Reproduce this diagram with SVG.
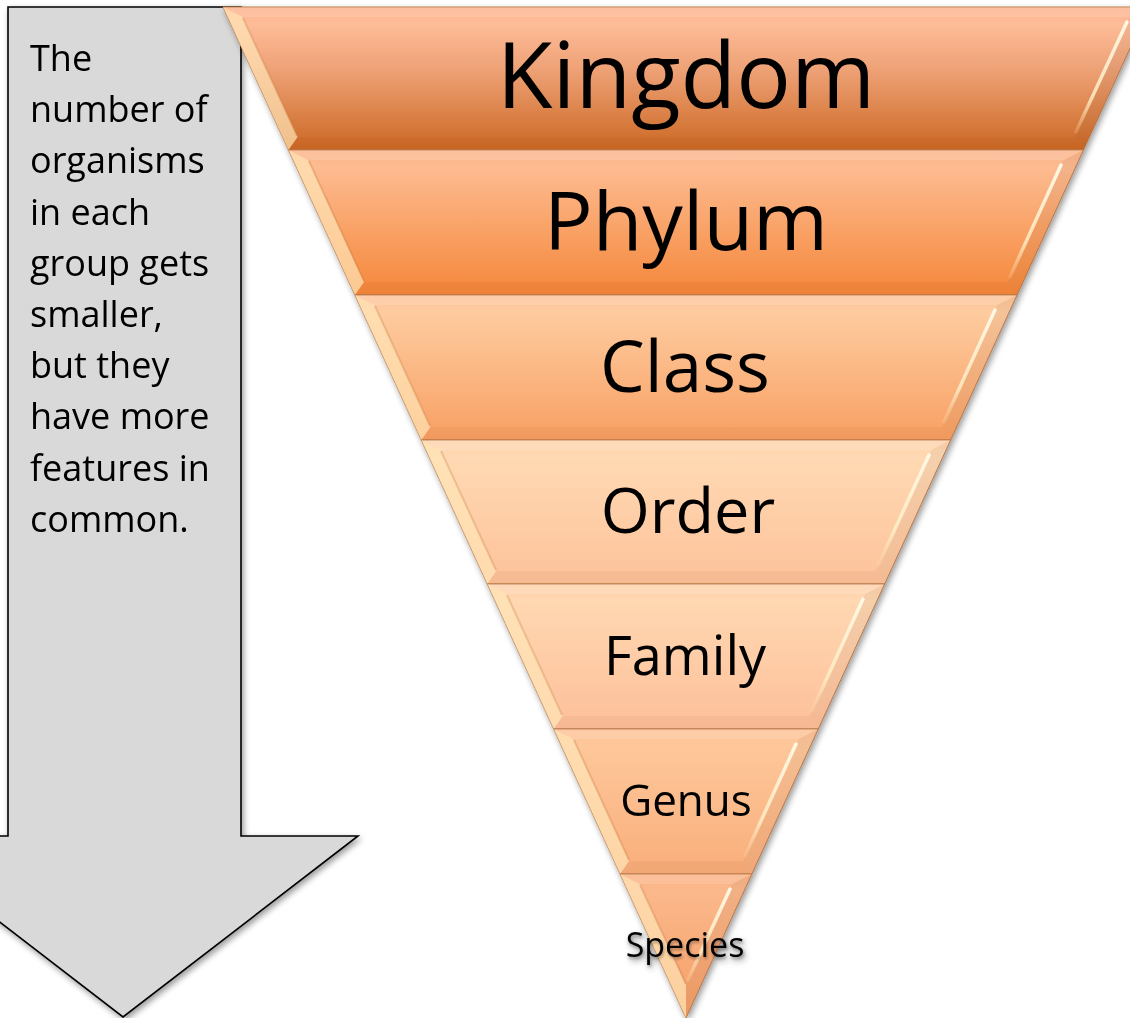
<svg xmlns="http://www.w3.org/2000/svg" width="1130" height="1018" viewBox="0 0 1130 1018">
<style>
.lbl{font-family:"Open Sans","Liberation Sans",sans-serif;fill:#000;text-anchor:middle}
.side{font-family:"Open Sans","Liberation Sans",sans-serif;font-size:36px;fill:#000}
.outer{stroke:#B97848;stroke-width:1}
.bl{fill:#FFE6B8;opacity:0.7}
.br{fill:#000;opacity:0.04}
.bt{fill:#fff;opacity:0.15}
.bb{fill:#7a3000;opacity:0.05}
.hl{stroke:url(#hlg);stroke-width:3.5;stroke-linecap:round;fill:none}
.sh{stroke:#C8773F;stroke-width:2;opacity:0.3;fill:none}
</style>
<defs>
<filter id="ds" x="-10%" y="-10%" width="130%" height="130%">
<feGaussianBlur in="SourceAlpha" stdDeviation="3"/>
<feOffset dx="2" dy="3" result="b"/>
<feComponentTransfer><feFuncA type="linear" slope="0.4"/></feComponentTransfer>
<feMerge><feMergeNode/><feMergeNode in="SourceGraphic"/></feMerge>
</filter>
<filter id="ts" x="-10%" y="-20%" width="130%" height="150%">
<feGaussianBlur in="SourceAlpha" stdDeviation="1.5"/>
<feOffset dx="1" dy="2"/>
<feComponentTransfer><feFuncA type="linear" slope="0.35"/></feComponentTransfer>
<feMerge><feMergeNode/><feMergeNode in="SourceGraphic"/></feMerge>
</filter>
<linearGradient id="hlg" x1="0" y1="0" x2="0" y2="1">
<stop offset="0" stop-color="#FFFBE8" stop-opacity="0.95"/>
<stop offset="0.7" stop-color="#FFF0C8" stop-opacity="0.8"/>
<stop offset="1" stop-color="#FFE0B0" stop-opacity="0.2"/>
</linearGradient>
<linearGradient id="g1" x1="0" y1="0" x2="0" y2="1">
<stop offset="0" stop-color="#FDB38E"/><stop offset="0.12" stop-color="#FEBC98"/><stop offset="0.45" stop-color="#EDA074"/><stop offset="1" stop-color="#CC6824"/>
</linearGradient>
<linearGradient id="g2" x1="0" y1="0" x2="0" y2="1">
<stop offset="0" stop-color="#FCB58C"/><stop offset="0.12" stop-color="#FDBB90"/><stop offset="1" stop-color="#F5873A"/>
</linearGradient>
<linearGradient id="g3" x1="0" y1="0" x2="0" y2="1">
<stop offset="0" stop-color="#FDC39A"/><stop offset="0.12" stop-color="#FECB9F"/><stop offset="1" stop-color="#F8A063"/>
</linearGradient>
<linearGradient id="g4" x1="0" y1="0" x2="0" y2="1">
<stop offset="0" stop-color="#FED3AE"/><stop offset="0.12" stop-color="#FFD9B3"/><stop offset="1" stop-color="#FDC29A"/>
</linearGradient>
<linearGradient id="g5" x1="0" y1="0" x2="0" y2="1">
<stop offset="0" stop-color="#FED2AC"/><stop offset="0.12" stop-color="#FFD7B1"/><stop offset="1" stop-color="#FDC09A"/>
</linearGradient>
<linearGradient id="g6" x1="0" y1="0" x2="0" y2="1">
<stop offset="0" stop-color="#FDC196"/><stop offset="0.12" stop-color="#FEC79A"/><stop offset="1" stop-color="#F9AE7B"/>
</linearGradient>
<linearGradient id="g7" x1="0" y1="0" x2="0" y2="1">
<stop offset="0" stop-color="#FBB487"/><stop offset="0.12" stop-color="#FBB88B"/><stop offset="1" stop-color="#F59E66"/>
</linearGradient>
</defs>

<g id="arrow" filter="url(#ds)">
<polygon points="8,7 241,7 241,836 358,836 123,1017 -112,836 8,836" fill="#D9D9D9" stroke="#000" stroke-width="1.6" stroke-linejoin="miter"/>
<text class="side" x="30" y="71">The</text>
<text class="side" x="30" y="122">number of</text>
<text class="side" x="30" y="173">organisms</text>
<text class="side" x="30" y="225">in each</text>
<text class="side" x="30" y="276">group gets</text>
<text class="side" x="30" y="327">smaller,</text>
<text class="side" x="30" y="378">but they</text>
<text class="side" x="30" y="429">have more</text>
<text class="side" x="30" y="481">features in</text>
<text class="side" x="30" y="532">common.</text>
</g>

<g id="pyramid" filter="url(#ds)">
<g id="kingdom">
<polygon class="outer" fill="url(#g1)" points="223,7 1149,7 1083.5,150 288.5,150"/>
<polygon class="bt" points="223,7 1149,7 1129.4,17 242.6,17"/>
<polygon class="bl" points="223,7 242.6,17 297.5,137 288.5,150"/>
<polygon class="br" points="1149,7 1083.5,150 1074.5,137 1129.4,17"/>
<polygon class="bb" points="297.5,137 1074.5,137 1083.5,150 288.5,150"/>
<line class="sh" x1="243" y1="18" x2="297" y2="136"/>
<line class="hl" x1="1127" y1="22" x2="1076" y2="132"/>
<text class="lbl" x="686" y="108" font-size="91">Kingdom</text>
</g>
<g id="phylum">
<polygon class="outer" fill="url(#g2)" points="288.5,150 1083.5,150 1017.1,295 354.9,295"/>
<polygon class="bt" points="288.5,150 1083.5,150 1063.9,160 308.1,160"/>
<polygon class="bl" points="288.5,150 308.1,160 364,282 354.9,295"/>
<polygon class="br" points="1083.5,150 1017.1,295 1008,282 1063.9,160"/>
<polygon class="bb" points="364,282 1008,282 1017.1,295 354.9,295"/>
<line class="sh" x1="309" y1="161" x2="364" y2="281"/>
<line class="hl" x1="1061" y1="165" x2="1010" y2="277"/>
<text class="lbl" x="686" y="250" font-size="81">Phylum</text>
</g>
<g id="class">
<polygon class="outer" fill="url(#g3)" points="354.9,295 1017.1,295 950.7,440 421.3,440"/>
<polygon class="bt" points="354.9,295 1017.1,295 997.5,305 374.5,305"/>
<polygon class="bl" points="354.9,295 374.5,305 430.4,427 421.3,440"/>
<polygon class="br" points="1017.1,295 950.7,440 941.6,427 997.5,305"/>
<polygon class="bb" points="430.4,427 941.6,427 950.7,440 421.3,440"/>
<line class="sh" x1="375" y1="306" x2="430" y2="426"/>
<line class="hl" x1="995" y1="310" x2="944" y2="422"/>
<text class="lbl" x="685" y="392" font-size="71">Class</text>
</g>
<g id="order">
<polygon class="outer" fill="url(#g4)" points="421.3,440 950.7,440 884.7,584 487.3,584"/>
<polygon class="bt" points="421.3,440 950.7,440 931.1,450 440.9,450"/>
<polygon class="bl" points="421.3,440 440.9,450 496.3,571 487.3,584"/>
<polygon class="br" points="950.7,440 884.7,584 875.7,571 931.1,450"/>
<polygon class="bb" points="496.3,571 875.7,571 884.7,584 487.3,584"/>
<line class="sh" x1="441" y1="451" x2="496" y2="570"/>
<line class="hl" x1="929" y1="455" x2="878" y2="566"/>
<text class="lbl" x="688" y="533" font-size="63">Order</text>
</g>
<g id="family">
<polygon class="outer" fill="url(#g5)" points="487.3,584 884.7,584 818.3,729 553.7,729"/>
<polygon class="bt" points="487.3,584 884.7,584 865.2,594 506.8,594"/>
<polygon class="bl" points="487.3,584 506.8,594 562.7,716 553.7,729"/>
<polygon class="br" points="884.7,584 818.3,729 809.3,716 865.2,594"/>
<polygon class="bb" points="562.7,716 809.3,716 818.3,729 553.7,729"/>
<line class="sh" x1="507" y1="595" x2="562" y2="715"/>
<line class="hl" x1="863" y1="599" x2="812" y2="711"/>
<text class="lbl" x="685" y="675" font-size="54">Family</text>
</g>
<g id="genus">
<polygon class="outer" fill="url(#g6)" points="553.7,729 818.3,729 751.9,874 620.1,874"/>
<polygon class="bt" points="553.7,729 818.3,729 798.7,739 573.3,739"/>
<polygon class="bl" points="553.7,729 573.3,739 629.1,861 620.1,874"/>
<polygon class="br" points="818.3,729 751.9,874 742.9,861 798.7,739"/>
<polygon class="bb" points="629.1,861 742.9,861 751.9,874 620.1,874"/>
<line class="sh" x1="574" y1="740" x2="629" y2="860"/>
<line class="hl" x1="796" y1="744" x2="745" y2="856"/>
<text class="lbl" x="686" y="816" font-size="44">Genus</text>
</g>
<g id="species">
<polygon class="outer" fill="url(#g7)" points="620.1,874 751.9,874 686,1018"/>
<polygon class="bt" points="620.1,874 751.9,874 732.3,884 639.7,884"/>
<polygon class="bl" points="620.1,874 639.7,884 686,985 686,1018"/>
<polygon class="br" points="751.9,874 686,1018 686,985 732.3,884"/>
<line class="sh" x1="640" y1="885" x2="686" y2="984"/>
<line class="hl" x1="730" y1="889" x2="688" y2="980"/>
<text class="lbl" x="685" y="957" font-size="34" filter="url(#ts)">Species</text>
</g>
</g>
</svg>
